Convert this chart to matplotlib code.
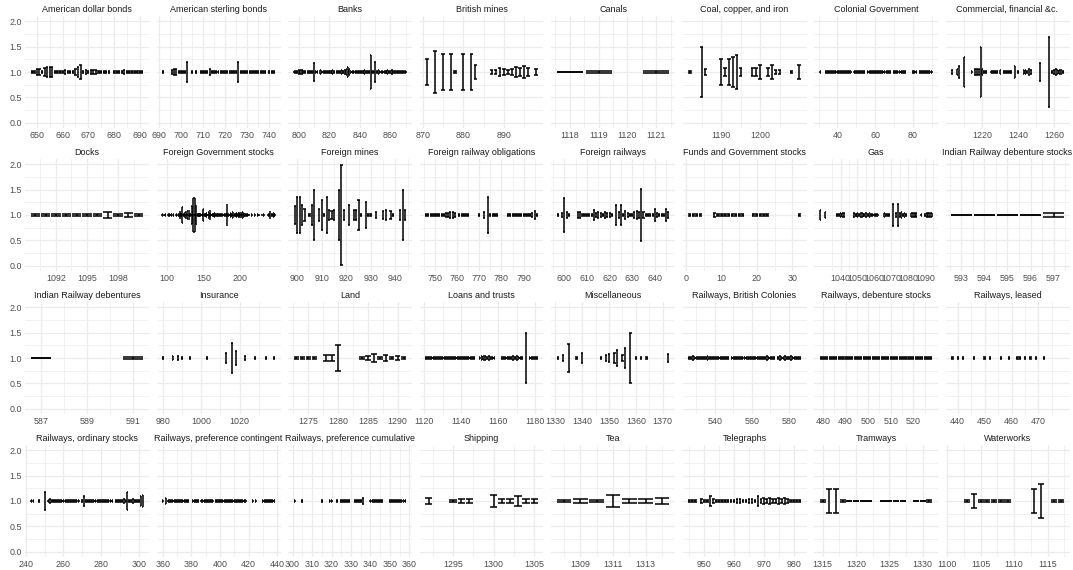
import matplotlib
matplotlib.use("Agg")
import matplotlib.pyplot as plt
import numpy as np

plt.rcParams["font.family"] = ["Liberation Sans", "DejaVu Sans"]

# ---------- data ----------
# one panel per sector: security ids given as runs (first, last),
# interval half-widths for ids whose bar is visibly taller than a dash;
# None = id present in the table but without an interval (not drawn)
SECTORS = [
    "American dollar bonds", "American sterling bonds", "Banks", "British mines",
    "Canals", "Coal, copper, and iron", "Colonial Government", "Commercial, financial &c.",
    "Docks", "Foreign Government stocks", "Foreign mines", "Foreign railway obligations",
    "Foreign railways", "Funds and Government stocks", "Gas", "Indian Railway debenture stocks",
    "Indian Railway debentures", "Insurance", "Land", "Loans and trusts",
    "Miscellaneous", "Railways, British Colonies", "Railways, debenture stocks", "Railways, leased",
    "Railways, ordinary stocks", "Railways, preference contingent",
    "Railways, preference cumulative", "Shipping",
    "Tea", "Telegraphs", "Tramways", "Waterworks",
]

ID_RUNS = [
    [(648, 678), (680, 691)],
    [(692, 692), (696, 703), (705, 705), (707, 707), (709, 738), (740, 742)],
    [(797, 804), (806, 812), (814, 823), (825, 870)],
    [(871, 871), (873, 873), (875, 875), (877, 878), (880, 880), (882, 883), (887, 896), (898, 898)],
    [(1118, 1119), (1121, 1121)],
    [(1182, 1182), (1185, 1186), (1190, 1195), (1198, 1200), (1202, 1205), (1208, 1208), (1210, 1210)],
    [(31, 31), (34, 47), (49, 54), (56, 68), (70, 76), (80, 82), (84, 90)],
    [(1203, 1203), (1206, 1207), (1210, 1210), (1214, 1214), (1216, 1222), (1225, 1228),
     (1230, 1230), (1232, 1236), (1238, 1238), (1240, 1240), (1243, 1247), (1252, 1252),
     (1257, 1257), (1259, 1265)],
    [(1090, 1100)],
    [(94, 94), (96, 96), (98, 98), (102, 102), (104, 104), (106, 106), (109, 109), (113, 114),
     (116, 146), (148, 160), (162, 176), (178, 190), (192, 212), (216, 216), (220, 220),
     (224, 224), (226, 226), (230, 230), (232, 232), (238, 241), (243, 247)],
    [(899, 903), (905, 907), (909, 915), (917, 919), (921, 921), (923, 926), (928, 930),
     (932, 932), (935, 936), (938, 939), (942, 944)],
    [(746, 759), (761, 765), (770, 770), (772, 772), (774, 778), (783, 796)],
    [(597, 597), (599, 602), (606, 621), (623, 646)],
    [(1, 4), (8, 16), (19, 23), (32, 32)],
    [(1028, 1028), (1031, 1031), (1038, 1042), (1048, 1062), (1066, 1069), (1071, 1071),
     (1073, 1079), (1082, 1085), (1088, 1088), (1090, 1094)],
    [(593, 597)],
    [(587, 587), (591, 591)],
    [(980, 980), (985, 985), (988, 988), (990, 990), (994, 994), (1003, 1003), (1013, 1013),
     (1016, 1016), (1018, 1018), (1023, 1023), (1028, 1028), (1034, 1034), (1038, 1038)],
    [(1273, 1276), (1278, 1280), (1284, 1291)],
    [(1121, 1147), (1150, 1158), (1162, 1173), (1175, 1175), (1177, 1181)],
    [(1331, 1331), (1333, 1333), (1335, 1335), (1338, 1338), (1340, 1340), (1347, 1347),
     (1349, 1350), (1352, 1353), (1355, 1356), (1358, 1358), (1360, 1360), (1362, 1362),
     (1364, 1364), (1372, 1372)],
    [(526, 547), (549, 572), (574, 586)],
    [(479, 528)],
    [(438, 438), (440, 440), (442, 442), (446, 446), (450, 450), (452, 452), (456, 456),
     (459, 459), (462, 463), (465, 465), (467, 467), (469, 469), (472, 472), (479, 479)],
    [(243, 244), (247, 247), (250, 250), (252, 268), (270, 286), (288, 302)],
    [(360, 360), (362, 362), (364, 378), (381, 385), (387, 395), (397, 418), (423, 423),
     (425, 425), (430, 438)],
    [(301, 301), (305, 305), (315, 315), (319, 320), (323, 323), (325, 329), (332, 336),
     (340, 346), (350, 358)],
    [(1292, 1292), (1295, 1297), (1300, 1305)],
    [(1308, 1314)],
    [(945, 947), (949, 982)],
    [(1315, 1322), (1324, 1327), (1329, 1331)],
    [(1101, 1101), (1103, 1109), (1113, 1114), (1116, 1117)],
]

HALF_WIDTH = [
    {650: .06, 651: .06, 653: .07, 654: .09, 655: .1, 656: .1, 661: .03, 665: .05, 666: .1,
     667: .14, 669: .04, 671: .04, 672: .04, 673: .04, 684: .03, 688: .02},
    {696: .04, 697: .05, 698: .05, 703: .2, 712: .02, 713: .05, 726: .2},
    {800: .03, 801: .03, 802: .03, 810: .17, 814: .03, 822: .03, 828: .03, 830: .04, 831: .05,
     832: .1, 833: .05, 843: .03, 847: .34, 850: .2, 852: .03, 858: .03, 861: .03},
    {871: .25, 873: .41, 875: .35, 877: .35, 878: .02, 880: .35, 882: .35, 883: .13, 887: .04,
     888: .04, 889: .08, 890: .05, 891: .03, 892: .05, 893: .1, 894: .08, 895: .12, 896: .08,
     898: .06},
    {1118: .004, 1119: .02, 1121: .012},
    {1182: .02, 1185: .5, 1186: .05, 1190: .25, 1191: .07, 1192: .25, 1193: .3, 1194: .34,
     1195: .07, 1198: .07, 1199: .08, 1200: .13, 1202: .07, 1203: .14, 1204: .03, 1205: .03,
     1208: .01, 1210: .14},
    {35: .025, 60: .02, 81: .025},
    {1203: .03, 1206: .05, 1207: .12, 1210: .3, 1216: .05, 1217: .05, 1218: .05, 1219: .5,
     1220: .05, 1230: .03, 1238: .12, 1243: .03, 1244: .04, 1246: .05, 1247: .04, 1252: .18,
     1257: .68, 1260: .03, 1261: .05, 1262: .04, 1263: .04, 1264: .04},
    {1095: .01, 1097: .05, 1099: .03},
    {118: .08, 121: .16, 125: .06, 128: .08, 130: .1, 134: .18, 136: .34, 138: .34, 140: .2,
     144: .04, 150: .12, 154: .04, 157: .05, 159: .1, 165: .03, 170: .03, 182: .22, 187: .04,
     190: .05, 195: .04, 198: .04, 200: .05, 203: .06, 205: .04, 241: .07, 246: .04},
    {899: .17, 900: .35, 901: .35, 902: .2, 903: .12, 905: .01, 906: .2, 907: .5, 909: .12,
     910: .3, 911: .02, 912: .35, 913: .1, 914: .08, 915: .1, 917: .5, 918: .98, 919: .1,
     921: .2, 923: .1, 924: .1, 925: .3, 926: .02, 928: .25, 929: .02, 930: .02, 932: .05,
     935: .07, 936: .1, 938: .08, 939: .02, 942: .1, 943: .5, 944: .1},
    {751: .02, 753: .02, 755: .03, 756: .04, 757: .05, 758: .06, 759: .03, 770: .02, 772: .05,
     774: .35, 794: .04, 795: .08},
    {599: .03, 600: .34, 601: .05, 606: .05, 607: .05, 613: .1, 614: .04, 615: .05, 616: .04,
     618: .06, 619: .04, 620: .04, 623: .2, 624: .05, 625: .2, 627: .07, 628: .04, 631: .05,
     632: .07, 633: .05, 634: .51, 635: .05, 640: .12, 641: .03, 645: .12, 646: .05},
    {8: .03},
    {1028: .1, 1031: .05, 1040: .04, 1041: .04, 1042: .03, 1048: .03, 1050: .04, 1052: .03,
     1053: .04, 1055: .04, 1057: .03, 1066: .04, 1071: .22, 1073: .03, 1074: .22, 1075: .04,
     1076: .05, 1078: .03, 1082: .03, 1083: .03, 1084: .03, 1085: .03, 1088: .02, 1091: .03,
     1092: .03, 1093: .03, 1094: .03},
    {593: .004, 594: .004, 595: .004, 596: .004, 597: .03},
    {587: .006, 591: .01},
    {980: .02, 985: .03, 988: .03, 990: .02, 994: .02, 1003: .01, 1013: .1, 1016: .3,
     1018: .13, 1023: .03, 1028: .02, 1034: .02, 1038: .02},
    {1278: .05, 1279: .05, 1280: .25, 1285: .03, 1286: .07, 1288: .05, 1290: .03},
    {1151: .03, 1152: .04, 1153: .04, 1155: .03, 1157: .02, 1163: .02, 1168: .04, 1170: .03,
     1175: .5, 1178: .02},
    {1333: .05, 1335: .27, 1340: .1, 1349: .05, 1350: .08, 1352: .1, 1353: .15, 1355: .05,
     1356: .2, 1358: .5, 1372: .07},
    {528: .03, 531: .02, 536: .03, 552: .02, 560: .02, 568: .03, 575: .03, 578: .03, 581: .03},
    {},
    {479: None},
    {250: .17, 253: .03, 262: .02, 271: .1, 278: .02, 290: .02, 292: .03, 294: .17, 297: .03,
     301: .1, 302: .12},
    {362: .05},
    {336: .05, 352: .02},
    {1292: .06, 1295: .02, 1296: .03, 1297: .03, 1300: .12, 1301: .03, 1302: .03, 1303: .1,
     1304: .03, 1305: .03},
    {1308: .02, 1309: .03, 1310: .02, 1311: .11, 1312: .04, 1313: .04, 1314: .05},
    {949: .03, 952: .1, 953: .03, 961: .03, 962: .03, 965: .03, 966: .03, 968: .1, 969: .04,
     970: .06, 971: .03, 972: .06, 973: .04, 974: .04, 975: .06, 976: .04, 977: .06, 978: .03},
    {1315: .02, 1316: .24, 1317: .24, 1318: .02, 1319: .005, 1320: .005, 1321: .005,
     1322: .005, 1324: .005, 1325: .005, 1326: .005, 1327: .005, 1329: .005, 1330: .005,
     1331: .02},
    {1101: None, 1104: .14, 1106: .02, 1113: .24, 1114: .34},
]
SMALL_HALF_WIDTH = 0.012   # ids not listed above: bar reads as a flat dash

X_TICKS = [
    [650, 660, 670, 680, 690], [690, 700, 710, 720, 730, 740], [800, 820, 840, 860],
    [870, 880, 890], [1118, 1119, 1120, 1121], [1190, 1200], [40, 60, 80],
    [1220, 1240, 1260],
    [1092, 1095, 1098], [100, 150, 200], [900, 910, 920, 930, 940],
    [750, 760, 770, 780, 790], [600, 610, 620, 630, 640], [0, 10, 20, 30],
    [1040, 1050, 1060, 1070, 1080, 1090], [593, 594, 595, 596, 597],
    [587, 589, 591], [980, 1000, 1020], [1275, 1280, 1285, 1290], [1120, 1140, 1160, 1180],
    [1330, 1340, 1350, 1360, 1370], [540, 560, 580], [480, 490, 500, 510, 520],
    [440, 450, 460, 470],
    [240, 260, 280, 300], [360, 380, 400, 420, 440], [300, 310, 320, 330, 340, 350, 360],
    [1295, 1300, 1305], [1309, 1311, 1313], [950, 960, 970, 980],
    [1315, 1320, 1325, 1330], [1100, 1105, 1110, 1115],
]

Y_TICKS = [0.0, 0.5, 1.0, 1.5, 2.0]

# ---------- layout ----------
W, H = 1073, 570
GRID_COL = "#EBEBEB"
TEXT_COL = "#4D4D4D"
BAR_W = 0.9

fig = plt.figure(figsize=(W / 100, H / 100), dpi=100)
fig.patch.set_facecolor("white")

col_left = [25 + 131.5 * i for i in range(8)]
row_top = [16 + 143 * r for r in range(4)]
pw, ph = 124, 112


def minor_between(ticks):
    t = np.asarray(ticks, dtype=float)
    step = t[1] - t[0] if len(t) > 1 else 1.0
    ext = np.concatenate([[t[0] - step], t, [t[-1] + step]])
    return (ext[:-1] + ext[1:]) / 2


for k, name in enumerate(SECTORS):
    r, c = divmod(k, 8)
    ax = fig.add_axes([col_left[c] / W, 1 - (row_top[r] + ph) / H, pw / W, ph / H])

    ids = np.array([i for a, b in ID_RUNS[k] for i in range(a, b + 1)], dtype=float)
    hw = np.array([HALF_WIDTH[k].get(int(x), SMALL_HALF_WIDTH) for x in ids], dtype=float)
    ok = ~np.isnan(hw)
    xs, hw = ids[ok], hw[ok]

    kw = dict(color="black", linewidth=1.1, zorder=3)
    ax.vlines(xs, 1 - hw, 1 + hw, **kw)
    ax.hlines(1 - hw, xs - BAR_W / 2, xs + BAR_W / 2, **kw)
    ax.hlines(1 + hw, xs - BAR_W / 2, xs + BAR_W / 2, **kw)

    # ticks first: set_xticks widens the view, the limits below reset it
    ax.set_xticks(X_TICKS[k])
    ax.set_xticks(minor_between(X_TICKS[k]), minor=True)
    ax.set_yticks(Y_TICKS)
    ax.set_yticks(minor_between(Y_TICKS), minor=True)
    if c == 0:
        ax.set_yticklabels([f"{v:.1f}" for v in Y_TICKS])
    else:
        ax.set_yticklabels([])

    # x range covers every id of the sector, drawn or not
    lo, hi = ids.min() - BAR_W / 2, ids.max() + BAR_W / 2
    pad = 0.05 * (hi - lo)
    ax.set_xlim(lo - pad, hi + pad)
    ax.set_ylim(-0.1, 2.1)

    ax.grid(which="major", color=GRID_COL, linewidth=0.9)
    ax.grid(which="minor", color=GRID_COL, linewidth=0.5)
    ax.set_axisbelow(True)
    for s in ax.spines.values():
        s.set_visible(False)
    ax.tick_params(which="both", length=0, labelsize=6.4, labelcolor=TEXT_COL, pad=2)
    ax.set_title(name, fontsize=6.5, color="#1A1A1A", pad=3)

fig.savefig("out.png", dpi=100)
